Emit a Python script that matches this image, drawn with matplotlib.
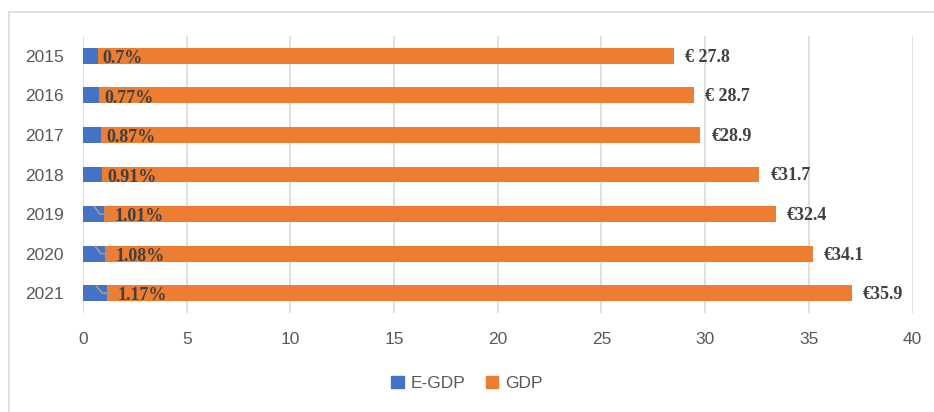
import matplotlib
matplotlib.use("Agg")
import matplotlib.pyplot as plt
from matplotlib.lines import Line2D
from matplotlib.patches import Patch

years = ["2015", "2016", "2017", "2018", "2019", "2020", "2021"]
egdp = [0.7, 0.77, 0.87, 0.91, 1.01, 1.08, 1.17]
gdp = [27.8, 28.7, 28.9, 31.7, 32.4, 34.1, 35.9]
egdp_labels = ["0.7%", "0.77%", "0.87%", "0.91%", "1.01%", "1.08%", "1.17%"]
gdp_labels = ["€ 27.8", "€ 28.7", "€28.9", "€31.7", "€32.4", "€34.1", "€35.9"]
leader = [False, False, False, False, True, True, True]

blue = "#4472C4"
orange = "#ED7D31"
grey_txt = "#595959"
lbl_txt = "#404040"

fig = plt.figure(figsize=(9.34, 4.12), dpi=100)
ax = fig.add_axes([0.0889, 0.2403, 0.8881, 0.6723])

ypos = list(range(len(years)))
ax.barh(ypos, egdp, height=0.4, color=blue, label="E-GDP")
ax.barh(ypos, gdp, left=egdp, height=0.4, color=orange, label="GDP")

serif = ["Liberation Serif", "DejaVu Serif"]
for i in ypos:
    e = egdp[i]
    if leader[i]:
        ax.plot([e * 0.55, e * 0.8, e + 0.2], [i - 0.18, i, i],
                color="#9A9A9A", lw=1.3, zorder=3)
        lx = e + 0.5
    else:
        lx = e + 0.25
    ax.text(lx, i + 0.07, egdp_labels[i], fontsize=13, fontweight="bold",
            family=serif, color=lbl_txt, va="center", ha="left", zorder=4)
    ax.annotate(gdp_labels[i], xy=(e + gdp[i], i), xytext=(8, -1),
                textcoords="offset points", fontsize=13, fontweight="bold",
                family=serif, color=lbl_txt, va="center", ha="left")

ax.set_xlim(0, 40)
ax.set_ylim(len(years) - 0.5, -0.5)
ax.set_xticks(range(0, 41, 5))
ax.set_yticks(ypos)
ax.set_yticklabels(years)
ax.tick_params(axis="both", length=0, labelsize=12.5, labelcolor=grey_txt)
ax.tick_params(axis="x", pad=14)
ax.tick_params(axis="y", pad=14)
for lab in ax.get_xticklabels() + ax.get_yticklabels():
    lab.set_family("Liberation Sans")
ax.xaxis.grid(True, color="#D9D9D9", lw=1.2)
ax.set_axisbelow(True)
for s in ax.spines.values():
    s.set_visible(False)

handles = [Patch(color=blue), Patch(color=orange)]
fig.legend(handles, ["E-GDP", "GDP"], loc="center", bbox_to_anchor=(0.5, 0.07),
           ncol=2, frameon=False, handlelength=0.7, handleheight=0.7,
           columnspacing=1.2, handletextpad=0.4,
           prop={"family": "Liberation Sans", "size": 12.5}, labelcolor=grey_txt)

# chart border (left and top edges)
fig.add_artist(Line2D([9 / 934, 9 / 934], [0, 1 - 12 / 412], color="#D9D9D9", lw=1.2,
                      transform=fig.transFigure))
fig.add_artist(Line2D([9 / 934, 1], [1 - 12 / 412, 1 - 12 / 412], color="#D9D9D9", lw=1.2,
                      transform=fig.transFigure))

fig.savefig("out.png", dpi=100)
